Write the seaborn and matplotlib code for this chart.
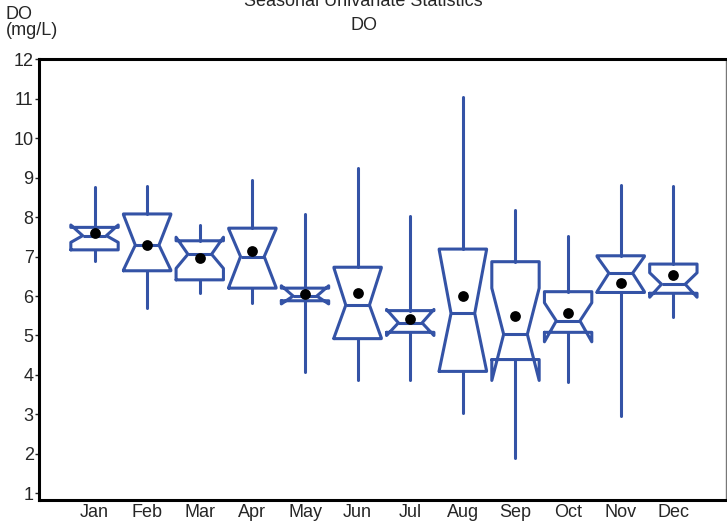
import matplotlib
matplotlib.use("Agg")
import matplotlib.pyplot as plt
import seaborn as sns
import pandas as pd
import numpy as np

months = ["Jan", "Feb", "Mar", "Apr", "May", "Jun", "Jul", "Aug", "Sep", "Oct", "Nov", "Dec"]
whisker_low = [6.90, 5.70, 6.08, 5.83, 4.07, 3.88, 3.88, 3.03, 1.89, 3.82, 2.97, 5.47]
q1 = [7.17, 6.64, 6.41, 6.20, 5.88, 4.92, 5.08, 4.09, 4.39, 5.08, 6.09, 6.07]
median = [7.53, 7.29, 7.06, 7.00, 6.00, 5.77, 5.32, 5.56, 5.03, 5.37, 6.58, 6.30]
q3 = [7.74, 8.08, 7.40, 7.72, 6.20, 6.73, 5.63, 7.19, 6.87, 6.11, 7.02, 6.81]
whisker_high = [8.76, 8.80, 7.80, 8.95, 8.08, 9.25, 8.04, 11.05, 8.17, 7.53, 8.82, 8.78]
notch_low = [7.36, 6.66, 6.70, 6.22, 5.80, 4.94, 5.00, 4.11, 3.86, 4.84, 6.11, 5.97]
notch_high = [7.80, 8.06, 7.49, 7.70, 6.26, 6.71, 5.66, 7.17, 6.20, 5.83, 7.00, 6.59]
mean = [7.59, 7.30, 6.96, 7.15, 6.05, 6.07, 5.42, 6.00, 5.50, 5.58, 6.32, 6.53]

BLUE = "#3453A6"

sns.set_style("white")
plt.rcParams["font.family"] = ["Liberation Sans", "DejaVu Sans"]

fig = plt.figure(figsize=(7.27, 5.27), dpi=100)
ax = fig.add_axes([0.054, 0.0512, 0.9446, 0.8363])

stats = []
for i, m in enumerate(months):
    stats.append(dict(label=m, med=median[i], q1=q1[i], q3=q3[i],
                      whislo=whisker_low[i], whishi=whisker_high[i],
                      cilo=notch_low[i], cihi=notch_high[i],
                      mean=mean[i], fliers=[]))

positions = list(range(len(months)))
ax.bxp(stats, positions=positions, widths=0.9, shownotches=True, showcaps=False,
       showfliers=False, showmeans=False, patch_artist=False, manage_ticks=False,
       boxprops=dict(color=BLUE, linewidth=2.2),
       whiskerprops=dict(color=BLUE, linewidth=2.2),
       medianprops=dict(color=BLUE, linewidth=2.2))

df = pd.DataFrame({"month": months, "mean": mean, "pos": positions})
sns.scatterplot(data=df, x="pos", y="mean", ax=ax, color="black", s=60,
                edgecolor="black", linewidth=0, zorder=5, legend=False)

ax.set_xlim(-1.05, 12.0)
ax.set_ylim(0.83, 12.0)
ax.set_xticks(positions)
ax.set_xticklabels(months)
ax.set_yticks(range(1, 13))
ax.tick_params(axis="x", length=0, pad=3, labelsize=13)
ax.tick_params(axis="y", length=3, width=1, pad=1, labelsize=13, left=True, direction="out")
ax.set_xlabel("")
ax.set_ylabel("")

for side in ["left", "top", "bottom"]:
    ax.spines[side].set_linewidth(2.2)
    ax.spines[side].set_color("black")
ax.spines["right"].set_linewidth(1.0)
ax.spines["right"].set_color("#777777")

fig.text(0.5, 0.997, "Seasonal Univariate Statistics", ha="center", va="center", fontsize=13)
fig.text(0.5, 0.951, "DO", ha="center", va="center", fontsize=13)
fig.text(0.008, 0.957, "DO\n(mg/L)", ha="left", va="center", fontsize=13, linespacing=0.9)

fig.savefig("out.png", dpi=100)
